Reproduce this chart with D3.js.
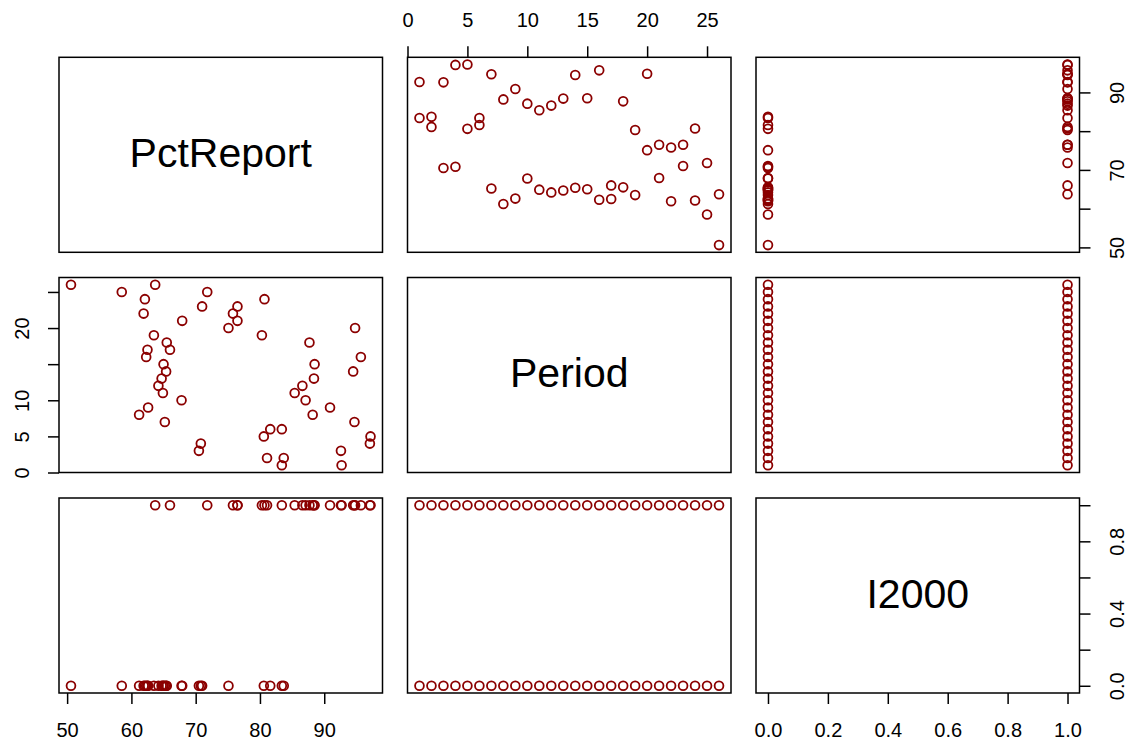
<!DOCTYPE html>
<html lang="en">
<head>
<meta charset="utf-8">
<title>Pairs plot</title>
<style>
  body { margin: 0; background: #fff; }
  svg { display: block; }
  text { font-family: "Liberation Sans", Arial, sans-serif; fill: #000; }
</style>
</head>
<body>
<svg id="chart" width="1129" height="743"></svg>
<script src="https://d3js.org/d3.v7.min.js"></script>
<script>
// variables, in diagonal order
const varNames = ["PctReport", "Period", "I2000"]

// one value per period, I2000 = 0 and I2000 = 1
const periods = [1, 2, 3, 4, 5, 6, 7, 8, 9, 10, 11, 12, 13, 14, 15, 16, 17, 18, 19, 20, 21, 22, 23, 24, 25, 26]
const pctReportI0 = [83.4, 83.7, 70.5, 70.8, 80.6, 81.6, 65.2, 61.2, 62.6, 67.8, 64.9, 64.2, 64.7,
                     65.4, 65.0, 62.3, 62.5, 65.5, 63.5, 75.1, 67.9, 61.9, 71.0, 62.1, 58.5, 50.6]
const pctReportI1 = [92.7, 81.1, 92.6, 97.1, 97.2, 83.4, 94.7, 88.2, 90.9, 87.1, 85.4, 86.6, 88.4,
                     94.5, 88.5, 95.7, 66.0, 87.7, 80.3, 94.8, 76.5, 75.8, 76.5, 80.7, 71.8, 63.7]

// axis ticks and which ticks carry a label (R drops crowded ones)
const ticks = {
    PctReport: [50, 60, 70, 80, 90],
    Period: [0, 5, 10, 15, 20, 25],
    I2000: [0, 0.2, 0.4, 0.6, 0.8, 1.0]
}
const tickLabelsX = {
    PctReport: [50, 60, 70, 80, 90],
    Period: [0, 5, 10, 15, 20, 25],
    I2000: [0, 0.2, 0.4, 0.6, 0.8, 1.0]
}
const tickLabelsY = {
    PctReport: [50, 70, 90],
    Period: [0, 5, 10, 20],
    I2000: [0, 0.4, 0.8]
}
const tickFormats = { PctReport: d3.format("d"), Period: d3.format("d"), I2000: d3.format(".1f") }

const data = []
periods.forEach((p, i) => {
    data.push({ PctReport: pctReportI0[i], Period: p, I2000: 0 })
})
periods.forEach((p, i) => {
    data.push({ PctReport: pctReportI1[i], Period: p, I2000: 1 })
})

// layout
const colX = [59, 407.5, 756]
const rowY = [57.3, 277.5, 498]
const panelW = 323.5
const panelH = 195
const tickLen = 11
const labelOff = 37

const svg = d3.select("#chart")
svg.append("rect").attr("width", 1129).attr("height", 743).attr("fill", "#fff")

function padded(name) {
    const ext = d3.extent(data, d => d[name])
    const pad = (ext[1] - ext[0]) * 0.04
    return [ext[0] - pad, ext[1] + pad]
}

const xScales = varNames.map((n, j) => d3.scaleLinear().domain(padded(n)).range([colX[j], colX[j] + panelW]))
const yScales = varNames.map((n, i) => d3.scaleLinear().domain(padded(n)).range([rowY[i] + panelH, rowY[i]]))

varNames.forEach((yName, i) => {
    varNames.forEach((xName, j) => {
        const g = svg.append("g")
        if (i === j) {
            g.append("text")
                .attr("x", colX[j] + panelW / 2)
                .attr("y", rowY[i] + panelH / 2 - 2)
                .attr("text-anchor", "middle")
                .attr("dominant-baseline", "central")
                .style("font-size", "41px")
                .text(xName)
        } else {
            g.selectAll("circle")
                .data(data)
                .join("circle")
                .attr("cx", d => xScales[j](d[xName]))
                .attr("cy", d => yScales[i](d[yName]))
                .attr("r", 4.4)
                .attr("fill", "none")
                .attr("stroke", "#8B0000")
                .attr("stroke-width", 1.8)
        }
        g.append("rect")
            .attr("x", colX[j]).attr("y", rowY[i])
            .attr("width", panelW).attr("height", panelH)
            .attr("fill", "none").attr("stroke", "#000").attr("stroke-width", 1.5)
    })
})

function styleAxis(ag) {
    ag.select(".domain").remove()
    ag.selectAll(".tick line").attr("stroke", "#000").attr("stroke-width", 1.5)
    ag.selectAll(".tick text").style("font-size", "20px").attr("fill", "#000")
}

function xAxis(j, top) {
    const name = varNames[j]
    const axis = (top ? d3.axisTop : d3.axisBottom)(xScales[j])
        .tickValues(ticks[name])
        .tickSize(tickLen)
        .tickFormat(d => tickLabelsX[name].includes(d) ? tickFormats[name](d) : "")
    const ag = svg.append("g")
        .attr("transform", `translate(0,${top ? rowY[0] : rowY[2] + panelH})`)
        .call(axis)
    styleAxis(ag)
    ag.selectAll(".tick text")
        .attr("y", top ? -labelOff : labelOff)
        .attr("dy", null)
        .attr("dominant-baseline", "central")
}

function yAxis(i, left) {
    const name = varNames[i]
    const axis = (left ? d3.axisLeft : d3.axisRight)(yScales[i])
        .tickValues(ticks[name])
        .tickSize(tickLen)
        .tickFormat(d => tickLabelsY[name].includes(d) ? tickFormats[name](d) : "")
    const ag = svg.append("g")
        .attr("transform", `translate(${left ? colX[0] : colX[2] + panelW},0)`)
        .call(axis)
    styleAxis(ag)
    ag.selectAll(".tick text")
        .attr("x", null)
        .attr("dy", null)
        .attr("text-anchor", "middle")
        .attr("dominant-baseline", "central")
        .attr("transform", `translate(${left ? -labelOff : labelOff},0) rotate(-90)`)
}

// R pairs(): top/bottom alternate by column, left/right by row
xAxis(1, true)
xAxis(0, false)
xAxis(2, false)
yAxis(1, true)
yAxis(0, false)
yAxis(2, false)
</script>
</body>
</html>
